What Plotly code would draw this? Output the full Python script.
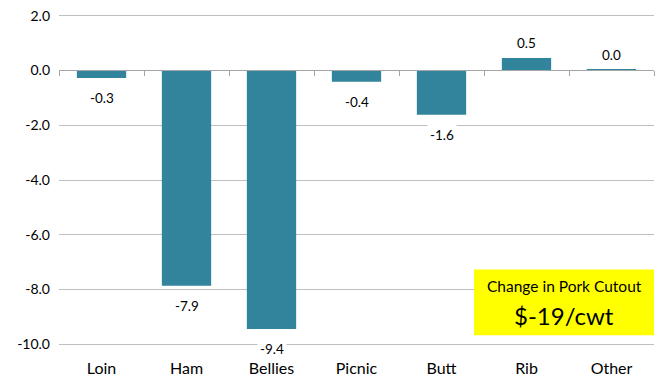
import plotly.graph_objects as go

categories = ["Loin", "Ham", "Bellies", "Picnic", "Butt", "Rib", "Other"]
values = [-0.27, -7.86, -9.44, -0.41, -1.62, 0.46, 0.02]
ytick_vals = [2, 0, -2, -4, -6, -8, -10]
ytick_text = ["2.0", "0.0", "-2.0", "-4.0", "-6.0", "-8.0", "-10.0"]
box_title = "Change in Pork Cutout"
box_value = "$-19/cwt"

FONT = "Lato, Liberation Sans, sans-serif"
BAR = "#31849B"

fig = go.Figure()
fig.add_trace(go.Bar(x=categories, y=values, marker=dict(color=BAR, line=dict(width=0)),
                     width=0.58, hoverinfo="skip"))
fig.add_trace(go.Bar(x=categories, y=values, xaxis="x2", opacity=0, hoverinfo="skip",
                     showlegend=False, marker=dict(color="rgba(0,0,0,0)")))

ymin, ymax = -10.1, 2.1
for c, v in zip(categories, values):
    fig.add_annotation(x=c, y=v, text=f"{v:.1f}", showarrow=False,
                       yshift=(-20 if v < 0 else 15), bgcolor="white",
                       font=dict(family=FONT, size=13.5, color="#000"), borderpad=2)

# highlight box (paper coords inside plot area)
fig.add_shape(type="rect", xref="paper", yref="paper", x0=0.6975, x1=1.0,
              y0=0.035, y1=0.232, fillcolor="#FFFF00", line=dict(width=0), layer="above")
fig.add_annotation(xref="paper", yref="paper", x=0.849, y=0.183, xanchor="center",
                   yanchor="middle", text=box_title, showarrow=False,
                   font=dict(family=FONT, size=15.5, color="#000"))
fig.add_annotation(xref="paper", yref="paper", x=0.849, y=0.094, xanchor="center",
                   yanchor="middle", text=box_value, showarrow=False,
                   font=dict(family=FONT, size=24, color="#000"))

fig.update_layout(
    width=669, height=379, margin=dict(l=59, r=15, t=13, b=32),
    paper_bgcolor="white", plot_bgcolor="white", showlegend=False,
    font=dict(family=FONT, size=14, color="#000"),
    xaxis=dict(type="category", categoryorder="array", categoryarray=categories,
               range=[-0.5, 6.5], showgrid=False, showline=False, ticks="",
               tickfont=dict(size=16), fixedrange=True, automargin=False,
               ticklabelstandoff=10),
    xaxis2=dict(type="category", categoryorder="array", categoryarray=categories,
                overlaying="x", anchor="free", automargin=False,
                position=(0 - ymin) / (ymax - ymin), range=[-0.5, 6.5],
                showgrid=False, showline=True, linecolor="#A6A6A6", linewidth=1,
                ticks="outside", tickson="boundaries", ticklen=5, tickcolor="#A6A6A6",
                showticklabels=False, side="bottom"),
    yaxis=dict(range=[ymin, ymax], tickvals=ytick_vals, ticktext=ytick_text,
               showgrid=True, gridcolor="#BFBFBF", gridwidth=1, zeroline=False,
               showline=False, ticks="", tickfont=dict(size=14), ticklabelstandoff=8,
               automargin=False),
)

fig.write_html("out.html")
